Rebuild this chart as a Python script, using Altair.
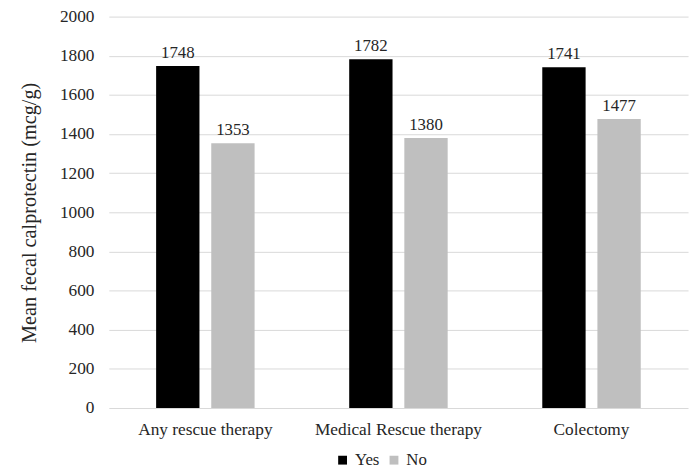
import altair as alt
import pandas as pd

categories = ["Any rescue therapy", "Medical Rescue therapy", "Colectomy"]
series = ["Yes", "No"]
yes_values = [1748, 1782, 1741]
no_values = [1353, 1380, 1477]
colors = ["#000000", "#bfbfbf"]
y_ticks = [0, 200, 400, 600, 800, 1000, 1200, 1400, 1600, 1800, 2000]

rows = []
for c, y, n in zip(categories, yes_values, no_values):
    rows.append({"category": c, "group": "Yes", "value": y})
    rows.append({"category": c, "group": "No", "value": n})
df = pd.DataFrame(rows)

FONT = "Liberation Serif"

base = alt.Chart(df).encode(
    x=alt.X("category:N", sort=categories, title=None,
            scale=alt.Scale(paddingInner=0.49, paddingOuter=0.245),
            axis=alt.Axis(labelAngle=0, labelFont=FONT, labelFontSize=17.5,
                          labelColor="#262626", ticks=False, domain=False,
                          labelPadding=13)),
    xOffset=alt.XOffset("group:N", sort=series,
                        scale=alt.Scale(paddingInner=0.214, paddingOuter=0)),
    y=alt.Y("value:Q", title="Mean fecal calprotectin (mcg/g)",
            scale=alt.Scale(domain=[0, 2000]),
            axis=alt.Axis(values=y_ticks, format="d", labelOverlap=False,
                          labelFont=FONT, labelFontSize=17.5, labelColor="#262626",
                          ticks=False, domain=False, labelPadding=15,
                          gridColor="#d9d9d9", titleFont=FONT, titleFontSize=20.5,
                          titleFontWeight="normal", titleColor="#262626",
                          titlePadding=20)),
)

bars = base.mark_bar().encode(
    color=alt.Color("group:N", sort=series,
                    scale=alt.Scale(domain=series, range=colors),
                    legend=alt.Legend(title=None, orient="none", direction="horizontal",
                                      legendX=228, legendY=440, symbolType="square",
                                      symbolSize=80, labelFont=FONT, labelFontSize=17,
                                      labelColor="#262626", columnPadding=6,
                                      symbolStrokeWidth=0)),
)

labels = base.mark_text(font=FONT, fontSize=17, color="#262626",
                        baseline="alphabetic", dy=-8).encode(
    text=alt.Text("value:Q"),
)

chart = (bars + labels).properties(
    width=586, height=396,
    autosize=alt.AutoSizeParams(type="none"),
    padding={"left": 102, "top": 6, "right": 4, "bottom": 60},
).configure_view(stroke=None).configure_axis(labelFont=FONT, titleFont=FONT)

chart.save("out.html", embed_options={"renderer": "svg", "actions": False})
